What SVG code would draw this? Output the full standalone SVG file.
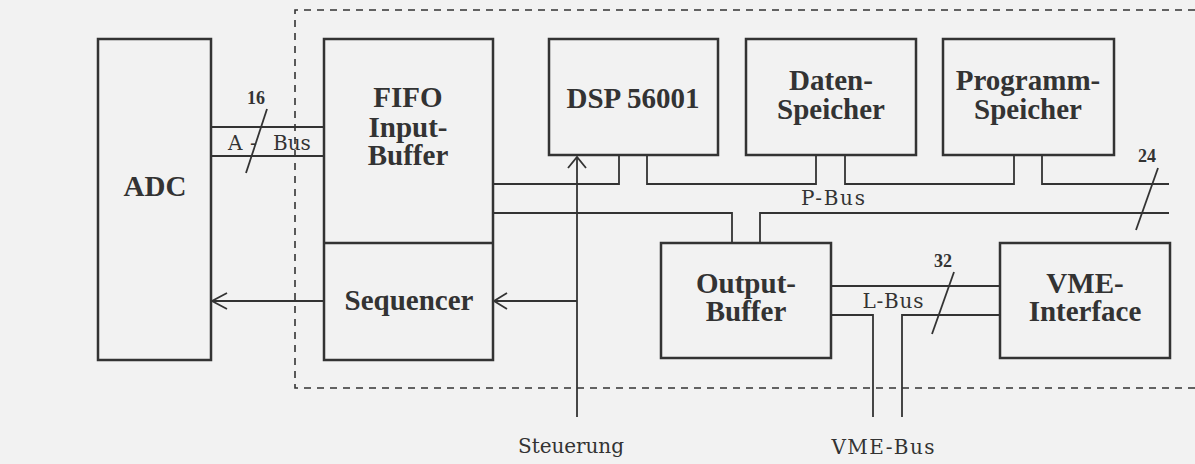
<svg xmlns="http://www.w3.org/2000/svg" width="1195" height="464" viewBox="0 0 1195 464">
<style>
.box{fill:none;stroke:#333;stroke-width:2.5}
.ln{fill:none;stroke:#333;stroke-width:1.8}
.dash{fill:none;stroke:#333;stroke-width:1.6;stroke-dasharray:7 6}
.t{font-family:"Liberation Serif","Times New Roman",serif;font-weight:bold;font-size:29px;fill:#333;text-anchor:middle}
.n{font-family:"Liberation Serif","Times New Roman",serif;font-weight:bold;font-size:18px;fill:#333;text-anchor:middle}
.l{font-family:"DejaVu Serif",serif;font-size:20px;fill:#333;text-anchor:middle}
</style>
<rect width="1195" height="464" fill="#f2f2f2"/>
<g id="boundary">
<path class="dash" d="M1195,10 H295 V388 H1195"/>
</g>
<g id="adc">
<rect class="box" x="98" y="39" width="113" height="321"/>
<text class="t" x="155" y="196">ADC</text>
</g>
<g id="fifo">
<rect class="box" x="324" y="39" width="169" height="321"/>
<line class="box" x1="324" y1="243" x2="493" y2="243"/>
<text class="t" x="408" y="107">FIFO</text>
<text class="t" x="408" y="137">Input-</text>
<text class="t" x="408" y="165">Buffer</text>
</g>
<g id="sequencer">
<text class="t" x="409" y="310">Sequencer</text>
</g>
<g id="dsp">
<rect class="box" x="549" y="39" width="169" height="116"/>
<text class="t" x="633" y="108">DSP 56001</text>
</g>
<g id="datenspeicher">
<rect class="box" x="746" y="39" width="170" height="116"/>
<text class="t" x="831" y="90">Daten-</text>
<text class="t" x="831" y="119">Speicher</text>
</g>
<g id="programmspeicher">
<rect class="box" x="943" y="39" width="171" height="116"/>
<text class="t" x="1028" y="90">Programm-</text>
<text class="t" x="1028" y="119">Speicher</text>
</g>
<g id="outputbuffer">
<rect class="box" x="661" y="243" width="170" height="115"/>
<text class="t" x="746" y="293">Output-</text>
<text class="t" x="746" y="321">Buffer</text>
</g>
<g id="vmeinterface">
<rect class="box" x="1000" y="243" width="170" height="115"/>
<text class="t" x="1085" y="293">VME-</text>
<text class="t" x="1085" y="321">Interface</text>
</g>
<g id="connectors">
<!-- A-Bus -->
<line class="ln" x1="211" y1="127" x2="324" y2="127"/>
<line class="ln" x1="211" y1="156" x2="324" y2="156"/>
<line class="ln" x1="267" y1="109" x2="246" y2="173"/>
<!-- P-Bus -->
<path class="ln" d="M493,184 H619 V155"/>
<path class="ln" d="M647,155 V184 H816 V155"/>
<path class="ln" d="M845,155 V184 H1014 V155"/>
<path class="ln" d="M1042,155 V184 H1169"/>
<path class="ln" d="M493,213 H732 V243"/>
<path class="ln" d="M760,243 V213 H1169"/>
<line class="ln" x1="1158" y1="168" x2="1136" y2="230"/>
<!-- L-Bus -->
<line class="ln" x1="831" y1="286" x2="1000" y2="286"/>
<path class="ln" d="M831,315 H873 V417"/>
<path class="ln" d="M902,417 V315 H1000"/>
<line class="ln" x1="954" y1="272" x2="932" y2="334"/>
<!-- Steuerung -->
<line class="ln" x1="577" y1="157" x2="577" y2="417"/>
<path class="ln" d="M568,168 L577,157 L586,168"/>
<line class="ln" x1="577" y1="301" x2="494" y2="301"/>
<path class="ln" d="M507,293 L494,301 L507,309"/>
<!-- Sequencer to ADC -->
<line class="ln" x1="324" y1="301" x2="212" y2="301"/>
<path class="ln" d="M227,293 L212,301 L227,309"/>
</g>
<g id="labels">
<text class="n" x="256" y="104">16</text>
<text class="n" x="1147" y="162">24</text>
<text class="n" x="943" y="267">32</text>
<text class="l" style="text-anchor:start" y="150"><tspan x="228">A</tspan><tspan x="250">-</tspan><tspan x="273">Bus</tspan></text>
<text class="l" x="833" y="205" textLength="64" lengthAdjust="spacing">P-Bus</text>
<text class="l" x="893" y="308" textLength="61" lengthAdjust="spacing">L-Bus</text>
<text class="l" x="571" y="453" textLength="106" lengthAdjust="spacing">Steuerung</text>
<text class="l" x="883" y="454" textLength="103" lengthAdjust="spacing">VME-Bus</text>
</g>
</svg>
